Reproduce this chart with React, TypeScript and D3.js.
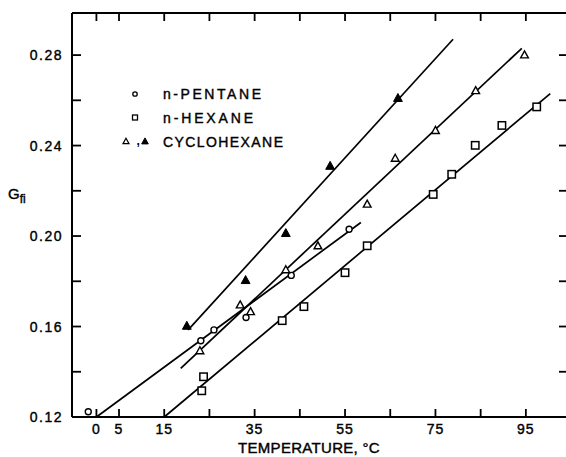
import React from "react";
import * as d3 from "d3";

const pentaneT = [-1.8, 23.1, 26.0, 33.1, 43.1, 55.9];
const pentaneG = [0.1223, 0.1537, 0.1585, 0.164, 0.1826, 0.203];

const hexaneT = [23.3, 23.7, 41.1, 45.9, 55.0, 59.9, 74.5, 78.6, 83.8, 89.7, 97.4];
const hexaneG = [0.1316, 0.1378, 0.1626, 0.1688, 0.1838, 0.1957, 0.2184, 0.2273, 0.2401, 0.2489, 0.2571];

const cycloOpenT = [22.9, 31.8, 34.1, 41.9, 49.0, 59.9, 66.1, 75.0, 83.9, 94.7];
const cycloOpenG = [0.1492, 0.1695, 0.1665, 0.185, 0.1956, 0.214, 0.2343, 0.2466, 0.2642, 0.28];

const cycloClosedT = [20.0, 33.0, 41.9, 51.7, 66.7];
const cycloClosedG = [0.1602, 0.1804, 0.2012, 0.2309, 0.2609];

// fitted lines: [start, end]
const pentaneFitT = [0, 58.5];
const pentaneFitG = [0.12, 0.206];
const hexaneFitT = [15, 100.4];
const hexaneFitG = [0.12, 0.263];
const cycloOpenFitT = [18.65, 94.1];
const cycloOpenFitG = [0.1415, 0.283];
const cycloClosedFitT = [20.3, 78.9];
const cycloClosedFitG = [0.1585, 0.287];

const xTickValues = [0, 5, 15, 25, 35, 45, 55, 65, 75, 85, 95];
const xTickLabels = ["0", "5", "15", "", "35", "", "55", "", "75", "", "95"];
const yTickValues = [0.12, 0.14, 0.16, 0.18, 0.2, 0.22, 0.24, 0.26, 0.28];
const yTickLabels = ["0.12", "", "0.16", "", "0.20", "", "0.24", "", "0.28"];

const legendNames = ["n-PENTANE", "n-HEXANE", "CYCLOHEXANE"];

const W = 566;
const H = 457;
const left = 72;
const right = 567;
const top = 13;
const bottom = 417;

export default function App() {
  const x = d3.scaleLinear().domain([-5.4, 104.1]).range([left, right]);
  const y = d3.scaleLinear().domain([0.12, 0.2986]).range([bottom, top]);
  const line = d3.line<[number, number]>().x((d) => x(d[0])).y((d) => y(d[1]));
  const fits = [
    [pentaneFitT, pentaneFitG],
    [hexaneFitT, hexaneFitG],
    [cycloOpenFitT, cycloOpenFitG],
    [cycloClosedFitT, cycloClosedFitG],
  ];
  const tri = (cx: number, cy: number, s: number) =>
    `M${cx},${cy - s * 0.6}L${cx + s * 0.55},${cy + s * 0.4}L${cx - s * 0.55},${cy + s * 0.4}Z`;
  const font = "'Liberation Sans', Arial, sans-serif";
  const legendWidths = [98, 90, 120];
  return (
    <svg width={W} height={H} style={{ position: "absolute", left: 0, top: 0, background: "#fff" }}
      fontFamily={font}>
      <rect x={0} y={0} width={W} height={H} fill="#fff" />
      {/* frame */}
      <line x1={left} x2={left} y1={top} y2={bottom} stroke="#000" strokeWidth={2} />
      <line x1={left} x2={W} y1={top} y2={top} stroke="#000" strokeWidth={2} />
      <line x1={left} x2={W} y1={bottom} y2={bottom} stroke="#000" strokeWidth={2} />
      {/* x ticks */}
      {xTickValues.map((t, i) => (
        <g key={"xt" + i}>
          <line x1={x(t)} x2={x(t)} y1={bottom} y2={bottom - 8} stroke="#000" strokeWidth={1.8} />
          <line x1={x(t)} x2={x(t)} y1={top} y2={top + 8} stroke="#000" strokeWidth={1.8} />
          {xTickLabels[i] && (
            <text x={x(t)} y={434} textAnchor="middle" fontSize={14} letterSpacing={1}
              stroke="#000" strokeWidth={0.4}>
              {xTickLabels[i]}
            </text>
          )}
        </g>
      ))}
      {/* y ticks */}
      {yTickValues.map((g, i) => (
        <g key={"yt" + i}>
          <line x1={left} x2={left + 9} y1={y(g)} y2={y(g)} stroke="#000" strokeWidth={1.8} />
          {i > 0 && <line x1={W - 7} x2={W} y1={y(g)} y2={y(g)} stroke="#000" strokeWidth={1.8} />}
          {yTickLabels[i] && (
            <text x={63} y={y(g) + 5} textAnchor="end" fontSize={14} letterSpacing={1.5}
              stroke="#000" strokeWidth={0.4}>
              {yTickLabels[i]}
            </text>
          )}
        </g>
      ))}
      {/* axis titles */}
      <text x={309} y={453} textAnchor="middle" fontSize={15} letterSpacing={0.3}
        stroke="#000" strokeWidth={0.4}>
        TEMPERATURE, °C
      </text>
      <text x={8} y={199} fontSize={15} stroke="#000" strokeWidth={0.4}>
        G<tspan fontSize={12} dy={4}>fi</tspan>
      </text>
      {/* fit lines */}
      {fits.map((f, i) => (
        <path key={"fit" + i}
          d={line([[f[0][0], f[1][0]], [f[0][1], f[1][1]]]) || ""}
          stroke="#000" strokeWidth={1.7} fill="none" />
      ))}
      {/* markers */}
      {pentaneT.map((t, i) => (
        <circle key={"p" + i} cx={x(t)} cy={y(pentaneG[i])} r={3} fill="#fff" stroke="#000" strokeWidth={1.4} />
      ))}
      {hexaneT.map((t, i) => (
        <rect key={"h" + i} x={x(t) - 3.7} y={y(hexaneG[i]) - 3.7} width={7.4} height={7.4} fill="#fff" stroke="#000" strokeWidth={1.5} />
      ))}
      {cycloOpenT.map((t, i) => (
        <path key={"co" + i} d={tri(x(t), y(cycloOpenG[i]), 7)} fill="#fff" stroke="#000" strokeWidth={1.4} />
      ))}
      {cycloClosedT.map((t, i) => (
        <path key={"cc" + i} d={tri(x(t), y(cycloClosedG[i]), 8)} fill="#000" stroke="#000" strokeWidth={1} />
      ))}
      {/* legend */}
      <circle cx={135} cy={94} r={2.2} fill="#fff" stroke="#000" strokeWidth={1.3} />
      <rect x={132.5} y={115} width={5} height={5} fill="#fff" stroke="#000" strokeWidth={1.3} />
      <path d={tri(126, 141.5, 5.5)} fill="#fff" stroke="#000" strokeWidth={1.2} />
      <text x={136.5} y={145} fontSize={12} fontWeight="bold">,</text>
      <path d={tri(145, 141.5, 6)} fill="#000" stroke="#000" strokeWidth={1} />
      {legendNames.map((n, i) => (
        <text key={"lg" + i} x={163} y={99 + i * 24} fontSize={14}
          textLength={legendWidths[i]} lengthAdjust="spacing" stroke="#000" strokeWidth={0.4}>
          {n}
        </text>
      ))}
    </svg>
  );
}
